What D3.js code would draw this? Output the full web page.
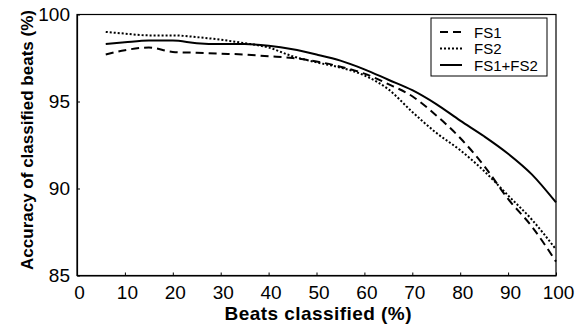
<!DOCTYPE html>
<html>
<head>
<meta charset="utf-8">
<script src="https://cdn.jsdelivr.net/npm/d3@7"></script>
<style>
  html, body { margin: 0; padding: 0; background: #fff; }
  svg text { font-family: Arial, "Liberation Sans", sans-serif; fill: #000; }
</style>
</head>
<body>
<div id="chart"></div>
<script>
// beats classified (%)
const beats = [6, 10, 15, 20, 25, 30, 35, 40, 45, 50, 55, 60, 65, 70, 75, 80, 85, 90, 95, 100];
// accuracy of classified beats (%)
const fs1 = [97.7, 97.95, 98.1, 97.85, 97.8, 97.75, 97.7, 97.6, 97.5, 97.3, 97.0, 96.6, 96.0, 95.3, 94.2, 92.9, 91.3, 89.4, 87.8, 85.8];
const fs2 = [99.0, 98.9, 98.8, 98.8, 98.7, 98.55, 98.35, 98.1, 97.6, 97.25, 96.95, 96.5, 95.7, 94.4, 93.2, 92.2, 91.0, 89.6, 88.2, 86.5];
const fs12 = [98.3, 98.4, 98.5, 98.5, 98.35, 98.3, 98.3, 98.2, 98.0, 97.7, 97.35, 96.85, 96.25, 95.65, 94.85, 93.9, 93.0, 92.0, 90.8, 89.2];
const seriesNames = ['FS1', 'FS2', 'FS1+FS2'];
const xTicks = [0, 10, 20, 30, 40, 50, 60, 70, 80, 90, 100];
const yTicks = [85, 90, 95, 100];

const width = 588, height = 324;
const margin = { top: 14.5, right: 32, bottom: 48.5, left: 77 };
const w = width - margin.left - margin.right;
const h = height - margin.top - margin.bottom;

const svg = d3.select('#chart').append('svg')
  .attr('width', width)
  .attr('height', height);

const g = svg.append('g')
  .attr('transform', `translate(${margin.left},${margin.top})`);

const x = d3.scaleLinear().domain([0, 100]).range([0, w]);
const y = d3.scaleLinear().domain([85, 100]).range([h, 0]);

// frame
g.append('rect')
  .attr('width', w).attr('height', h)
  .attr('fill', 'none').attr('stroke', '#000').attr('stroke-width', 1.2);

// axes with inward ticks
const xAxis = g.append('g')
  .attr('transform', `translate(0,${h})`)
  .call(d3.axisBottom(x).tickValues(xTicks).tickSizeInner(-3).tickSizeOuter(0).tickPadding(9));
const yAxis = g.append('g')
  .call(d3.axisLeft(y).tickValues(yTicks).tickSizeInner(-3).tickSizeOuter(0).tickPadding(7));

[xAxis, yAxis].forEach(a => {
  a.select('.domain').attr('stroke', '#000').attr('stroke-width', 1.2);
  a.selectAll('.tick line').attr('stroke', '#000');
  a.selectAll('.tick text')
    .attr('font-size', 19)
    .attr('font-family', 'Arial, "Liberation Sans", sans-serif');
});
xAxis.selectAll('.tick text').attr('dx', 2).attr('dy', '0.75em');
yAxis.selectAll('.tick text').attr('dy', '0.3em');

// lines
const styles = [
  { data: fs1, dash: '8,5' },
  { data: fs2, dash: '2,2' },
  { data: fs12, dash: null }
];
const line = d3.line()
  .x((d, i) => x(beats[i]))
  .y(d => y(d))
  .curve(d3.curveMonotoneX);

styles.forEach(s => {
  g.append('path')
    .datum(s.data)
    .attr('fill', 'none')
    .attr('stroke', '#000')
    .attr('stroke-width', 2)
    .attr('stroke-dasharray', s.dash)
    .attr('d', line);
});

// legend
const legend = svg.append('g').attr('transform', 'translate(431,18)');
legend.append('rect')
  .attr('width', 116).attr('height', 58)
  .attr('fill', '#fff').attr('stroke', '#000').attr('stroke-width', 1);
seriesNames.forEach((name, i) => {
  const ly = 14 + i * 16.5;
  legend.append('line')
    .attr('x1', 9).attr('x2', 31).attr('y1', ly).attr('y2', ly)
    .attr('stroke', '#000').attr('stroke-width', 2)
    .attr('stroke-dasharray', styles[i].dash);
  legend.append('text')
    .attr('x', 43).attr('y', ly + 5.5)
    .attr('font-size', 15)
    .text(name);
});

// axis titles
svg.append('text')
  .attr('x', 318).attr('y', 320)
  .attr('text-anchor', 'middle')
  .attr('font-size', 19).attr('font-weight', 'bold')
  .attr('textLength', 187)
  .text('Beats classified (%)');

svg.append('text')
  .attr('transform', 'translate(33,140) rotate(-90)')
  .attr('text-anchor', 'middle')
  .attr('font-size', 17).attr('font-weight', 'bold')
  .text('Accuracy of classified beats (%)');
</script>
</body>
</html>
